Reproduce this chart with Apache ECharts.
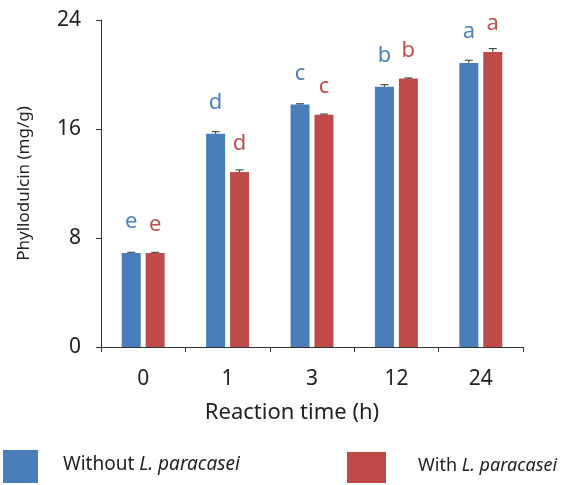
<!DOCTYPE html>
<html>
<head>
<meta charset="utf-8">
<script src="https://cdn.jsdelivr.net/npm/echarts@6/dist/echarts.min.js"></script>
<style>html,body{margin:0;padding:0;background:#fff}#c{width:581px;height:485px}</style>
</head>
<body>
<div id="c"></div>
<script>
var categories = ['0', '1', '3', '12', '24'];
var withoutValues = [6.9, 15.65, 17.8, 19.1, 20.85];
var withValues = [6.9, 12.85, 17.05, 19.7, 21.65];
var withoutErr = [0.05, 0.15, 0.05, 0.15, 0.2];
var withErr = [0.05, 0.15, 0.05, 0.05, 0.25];
var withoutLetters = ['e', 'd', 'c', 'b', 'a'];
var withLetters = ['e', 'd', 'c', 'b', 'a'];
var yTicks = [0, 8, 16, 24];

var BLUE = '#4a7ebb', RED = '#be4b48';
var BLUE_T = '#4f81bd', RED_T = '#c0504d';
var FONT = 'Noto Sans';

function errData(vals, errs) {
  return vals.map(function (v, i) { return [i, v, errs[i]]; });
}
function errRender(offset) {
  return function (params, api) {
    var x = api.value(0), v = api.value(1), e = api.value(2);
    var top = api.coord([x, v + e]);
    var bot = api.coord([x, v]);
    var cx = top[0] + offset;
    var w = 4;
    return {
      type: 'group',
      children: [
        { type: 'line', shape: { x1: cx, y1: bot[1], x2: cx, y2: top[1] }, style: { stroke: '#333', lineWidth: 1 } },
        { type: 'line', shape: { x1: cx - w, y1: top[1], x2: cx + w, y2: top[1] }, style: { stroke: '#333', lineWidth: 1 } }
      ]
    };
  };
}

var legendRich = {
  n: { fontFamily: FONT, fontSize: 19, color: '#222' },
  i: { fontFamily: FONT, fontSize: 19, color: '#222', fontStyle: 'italic' }
};
var legendRich2 = {
  n: { fontFamily: FONT, fontSize: 18, color: '#222' },
  i: { fontFamily: FONT, fontSize: 18, color: '#222', fontStyle: 'italic' }
};

var chart = echarts.init(document.getElementById('c'), null, { renderer: 'canvas' });
chart.setOption({
  animation: false,
  grid: { left: 101, right: 58, top: 20, bottom: 138, containLabel: false },
  legend: [
    {
      data: ['Without L. paracasei'], left: 3, top: 450, padding: 0, itemWidth: 35, itemHeight: 33, icon: 'rect',
      formatter: function () { return '{n|Without }{i|L. paracasei}'; },
      textStyle: { padding: [0, 0, 4, 20], rich: legendRich }
    },
    {
      data: ['With L. paracasei'], left: 347, top: 452, padding: 0, itemWidth: 39, itemHeight: 31, icon: 'rect',
      formatter: function () { return '{n|With }{i|L. paracasei}'; },
      textStyle: { padding: [0, 0, 4, 27], rich: legendRich2 }
    }
  ],
  xAxis: {
    type: 'category', data: categories,
    name: 'Reaction time (h)', nameLocation: 'middle', nameGap: 55,
    nameTextStyle: { fontFamily: FONT, fontSize: 22, color: '#222', padding: [0, 40, 0, 0] },
    axisLine: { lineStyle: { color: '#333', width: 1 } },
    axisTick: { show: true, length: 5, alignWithLabel: false, lineStyle: { color: '#333' } },
    axisLabel: { fontFamily: FONT, fontSize: 21, color: '#222', margin: 22 }
  },
  yAxis: {
    type: 'value', min: 0, max: 24, interval: 8,
    name: 'Phyllodulcin (mg/g)', nameLocation: 'middle', nameGap: 68,
    nameTextStyle: { fontFamily: FONT, fontSize: 17, color: '#222' },
    axisLine: { show: true, lineStyle: { color: '#333', width: 1 } },
    axisTick: { show: true, length: 5, lineStyle: { color: '#333' } },
    splitLine: { show: false },
    axisLabel: { fontFamily: FONT, fontSize: 21, color: '#222', margin: 20,
      formatter: function (v) { return yTicks.indexOf(v) >= 0 ? String(v) : ''; } }
  },
  series: [
    {
      name: 'Without L. paracasei', type: 'bar', data: withoutValues, barWidth: 19, barGap: '26%',
      itemStyle: { color: BLUE },
      label: { show: true, position: 'top', distance: 20, fontFamily: FONT, fontSize: 22, color: BLUE_T,
        formatter: function (p) { return withoutLetters[p.dataIndex]; } }
    },
    {
      name: 'With L. paracasei', type: 'bar', data: withValues, barWidth: 19,
      itemStyle: { color: RED },
      label: { show: true, position: 'top', distance: 17, fontFamily: FONT, fontSize: 22, color: RED_T,
        formatter: function (p) { return withLetters[p.dataIndex]; } }
    },
    {
      type: 'custom', renderItem: errRender(-12), data: errData(withoutValues, withoutErr),
      encode: { x: 0, y: 1 }, z: 5, silent: true
    },
    {
      type: 'custom', renderItem: errRender(12), data: errData(withValues, withErr),
      encode: { x: 0, y: 1 }, z: 5, silent: true
    }
  ]
});
</script>
</body>
</html>
